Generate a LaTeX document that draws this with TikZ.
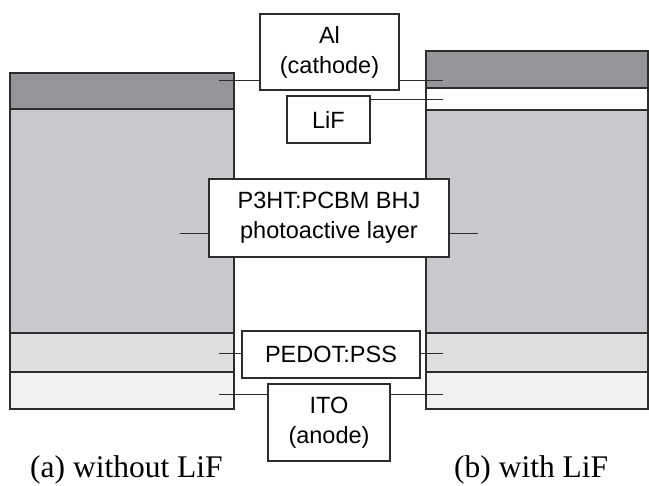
\documentclass[tikz,border=0pt]{standalone}
\usepackage{fontspec}
\setmainfont{Liberation Serif}
\setsansfont{Liberation Sans}
\usepackage{tikz}
\definecolor{algray}{RGB}{148, 149, 153}
\definecolor{p3htgray}{RGB}{200, 201, 204}
\definecolor{pedotgray}{RGB}{221, 222, 224}
\definecolor{itogray}{RGB}{240, 241, 242}
\definecolor{edgegray}{RGB}{45, 45, 45}
\tikzset{
  layer/.style={draw=edgegray, line width=1.1pt},
  tag/.style={draw=edgegray, fill=white, line width=1.2pt, inner sep=0pt,
              align=center, font=\sffamily\fontsize{23.5}{30}\selectfont},
  leader/.style={draw=edgegray, line width=0.9pt},
  caption/.style={anchor=base west, inner sep=0pt, font=\fontsize{31.5}{36}\selectfont}
}

\begin{document}
\begin{tikzpicture}[x=1pt, y=-1pt]
  \useasboundingbox (0,0) rectangle (649,486);
  % left stack, without LiF
  \draw[layer, fill=algray]    (10,73)  rectangle (234,109);
  \draw[layer, fill=p3htgray]  (10,109) rectangle (234,333);
  \draw[layer, fill=pedotgray] (10,333) rectangle (234,372);
  \draw[layer, fill=itogray]   (10,372) rectangle (234,409);
  % right stack, with LiF
  \draw[layer, fill=algray]    (426,51)  rectangle (648,88);
  \draw[layer, fill=white]     (426,88)  rectangle (648,110);
  \draw[layer, fill=p3htgray]  (426,110) rectangle (648,333);
  \draw[layer, fill=pedotgray] (426,333) rectangle (648,372);
  \draw[layer, fill=itogray]   (426,372) rectangle (648,409);

  \node[tag, minimum width=139pt, minimum height=76pt] (al) at (329.5,52) {Al\\(cathode)};
  \node[tag, minimum width=83pt, minimum height=47pt] (lif) at (328.5,119.5) {LiF};
  \node[tag, minimum width=240pt, minimum height=78pt] (p3ht) at (329,218) {P3HT:PCBM BHJ\\photoactive layer};
  \node[tag, minimum width=178pt, minimum height=47pt] (pedot) at (331,354.5) {PEDOT:PSS};
  \node[tag, minimum width=122pt, minimum height=77pt] (ito) at (329,422.5) {ITO\\(anode)};

  \coordinate (alL) at (219,80);   \coordinate (alR) at (443,80);
  \coordinate (lifR) at (443,99);
  \coordinate (p3htL) at (180,233); \coordinate (p3htR) at (478,233);
  \coordinate (pedotL) at (219,353); \coordinate (pedotR) at (443,353);
  \coordinate (itoL) at (219,394);  \coordinate (itoR) at (443,394);

  \draw[leader] (alL) -- (al.west |- alL);
  \draw[leader] (al.east |- alR) -- (alR);
  \draw[leader] (lif.east |- lifR) -- (lifR);
  \draw[leader] (p3htL) -- (p3ht.west |- p3htL);
  \draw[leader] (p3ht.east |- p3htR) -- (p3htR);
  \draw[leader] (pedotL) -- (pedot.west |- pedotL);
  \draw[leader] (pedot.east |- pedotR) -- (pedotR);
  \draw[leader] (itoL) -- (ito.west |- itoL);
  \draw[leader] (ito.east |- itoR) -- (itoR);

  \node[caption] (capa) at (30,478) {(a) without LiF};
  \node[caption] (capb) at (454,478) {(b) with LiF};
\end{tikzpicture}
\end{document}
